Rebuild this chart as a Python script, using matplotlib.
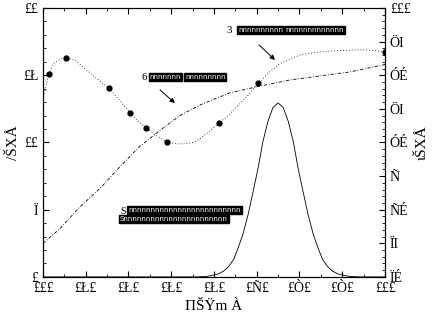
import matplotlib
matplotlib.use('Agg')
import matplotlib.pyplot as plt
from matplotlib.ticker import MultipleLocator

# courbe pointillee (avec marqueurs)
x_pointille = [300, 304, 307, 313, 320, 327, 338, 349, 362, 377, 390, 402, 411, 421, 433, 445,
               456, 466, 476, 484, 494, 506, 518, 530, 541, 552, 564, 577, 590, 601, 618, 636,
               654, 671, 686, 700]
y_pointille = [13.2, 14.3, 15.1, 15.9, 16.2, 16.3, 16.1, 15.5, 14.8, 14.05, 13.1, 12.2, 11.6,
               11.08, 10.5, 10.04, 9.9, 9.9, 10.0, 10.3, 10.8, 11.45, 12.1, 12.86, 13.6, 14.4,
               15.2, 15.85, 16.25, 16.5, 16.7, 16.8, 16.85, 16.9, 16.85, 16.7]
x_points = [307, 327, 377, 402, 421, 445, 506, 552, 700]
y_points = [15.1, 16.3, 14.05, 12.2, 11.08, 10.04, 11.45, 14.4, 16.7]

# courbe tiret-point
x_tiret = [300, 320, 343, 367, 390, 413, 437, 460, 484, 519, 554, 589, 624, 659, 700]
y_tiret = [2.5, 3.6, 5.2, 6.6, 8.2, 9.7, 10.9, 12.0, 12.8, 13.7, 14.2, 14.65, 14.95, 15.25, 15.8]

# pic (courbe pleine)
x_pic = [300, 480, 493, 505, 511, 517, 523, 528, 534, 540, 546, 552, 557, 563, 569, 575,
         581, 587, 593, 598, 604, 610, 616, 622, 627, 633, 639, 645, 657, 670, 700]
y_pic = [0, 0, 0.05, 0.22, 0.42, 0.76, 1.3, 2.11, 3.2, 4.66, 6.4, 8.22, 10.0, 11.55, 12.6, 12.94,
         12.6, 11.55, 10.0, 8.22, 6.4, 4.66, 3.2, 2.11, 1.3, 0.76, 0.42, 0.22, 0.05, 0, 0]

x_ticks = [300, 350, 400, 450, 500, 550, 600, 650, 700]
x_labels = ['£££', '£Ł£', '£Ł£', '£Ł£', '£Ł£', '£Ñ£', '£Ò£', '£Ò£', '£££']
y_ticks = [0, 5, 10, 15, 20]
y_labels = ['£', 'Ï', '££', '£Ł', '££']
y2_ticks = [60, 65, 70, 75, 80, 85, 90, 95, 100]
y2_labels = ['ÏÉ', 'ÏI', 'ÑÉ', 'Ñ', 'ÓÉ', 'ÖI', 'ÓÉ', 'ÖI', '£££']

plt.rcParams['font.family'] = ['Liberation Serif', 'DejaVu Serif']

fig = plt.figure(figsize=(4.43, 3.22), dpi=100)
ax = fig.add_axes([0.097, 0.140, 0.772, 0.835])

ax.plot(x_pic, y_pic, color='k', linewidth=0.6)
ax.plot(x_tiret, y_tiret, color='k', linestyle=(0, (4, 2, 1, 2)), linewidth=0.6)
ax.plot(x_pointille, y_pointille, color='k', linestyle=(0, (1, 2.5)), linewidth=0.6)
ax.plot(x_points, y_points, 'o', color='k', markersize=3.5)

ax.set_xlim(300, 700)
ax.set_ylim(0, 20)
ax.set_xticks(x_ticks)
ax.set_xticklabels(x_labels, fontsize=10)
ax.set_yticks(y_ticks)
ax.set_yticklabels(y_labels, fontsize=10)
ax.yaxis.set_minor_locator(MultipleLocator(1))
ax.xaxis.set_minor_locator(MultipleLocator(25))
ax.tick_params(which='both', direction='in', top=True)
ax.tick_params(which='major', length=4)
ax.tick_params(which='minor', length=2)
ax.set_xlabel('ΠŠŸm À', fontsize=11, labelpad=4)
ax.set_ylabel('/ŠXÅ', fontsize=11, labelpad=2)

ax2 = ax.twinx()
ax2.set_ylim(60, 100)
ax2.set_yticks(y2_ticks)
ax2.set_yticklabels(y2_labels, fontsize=10)
ax2.yaxis.set_minor_locator(MultipleLocator(1))
ax2.tick_params(which='both', direction='in')
ax2.tick_params(which='major', length=4)
ax2.tick_params(which='minor', length=2)
ax2.set_ylabel('ιŠXÅ', fontsize=11, labelpad=4)

# annotations : chiffre + mots en blanc sur fond noir
bloc = dict(boxstyle='square,pad=0.15', fc='k', ec='k')
ax.text(515, 18.36, '3', fontsize=8, va='center', ha='left')
ax.text(528, 18.36, 'nnnnnnnnnn', fontsize=5, color='w', va='center', ha='left',
        family='DejaVu Sans', bbox=bloc)
ax.text(584, 18.36, 'nnnnnnnnnnnnn', fontsize=5, color='w', va='center', ha='left',
        family='DejaVu Sans', bbox=bloc)
ax.annotate('', xy=(573.7, 16.0), xytext=(550.3, 17.4),
            arrowprops=dict(arrowstyle='-|>', color='k', lw=0.7, mutation_scale=7))

ax.text(415, 14.87, '6', fontsize=8, va='center', ha='left')
ax.text(425, 14.87, 'nnnnnnn', fontsize=5, color='w', va='center', ha='left',
        family='DejaVu Sans', bbox=bloc)
ax.text(466, 14.87, 'nnnnnnnnn', fontsize=5, color='w', va='center', ha='left',
        family='DejaVu Sans', bbox=bloc)
ax.annotate('', xy=(456.7, 12.79), xytext=(434.5, 14.05),
            arrowprops=dict(arrowstyle='-|>', color='k', lw=0.7, mutation_scale=7))

ax.text(391, 4.9, 'S', fontsize=7, va='center', ha='left')
ax.text(399.5, 5.0, 'nnnnnnnnnnnnnnnnnnnnnnnnn', fontsize=5, color='w', va='center', ha='left',
        family='DejaVu Sans', bbox=bloc)
ax.text(390, 4.28, 'Snnnnnnnnnnnnnnnnnnnnnnn', fontsize=5, color='w', va='center', ha='left',
        family='DejaVu Sans', bbox=bloc)

fig.savefig('out.png', dpi=100)
